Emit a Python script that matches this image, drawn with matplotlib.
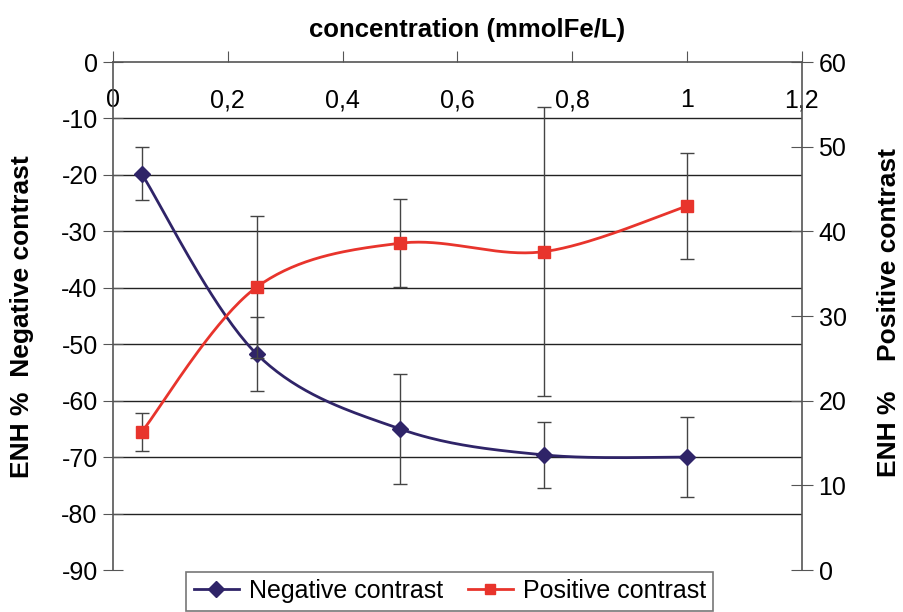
# ====================================
# ENH % vs concentration: negative / positive contrast
# ====================================

import numpy as np
import matplotlib.pyplot as plt
from matplotlib.ticker import FuncFormatter

plt.rcParams["font.family"] = ["Liberation Sans", "DejaVu Sans"]
plt.rcParams["axes.unicode_minus"] = False

# ====================================
# Data
# ====================================

concentration = [0.05, 0.25, 0.5, 0.75, 1.0]

neg_enh = [-19.8, -51.7, -65.0, -69.6, -70.0]
neg_err = [4.7, 6.5, 9.7, 5.8, 7.1]

pos_enh = [16.3, 33.4, 38.6, 37.6, 43.0]
pos_err = [2.2, 8.4, 5.2, 17.1, 6.3]

x_ticks = [0, 0.2, 0.4, 0.6, 0.8, 1.0, 1.2]
left_ticks = [0, -10, -20, -30, -40, -50, -60, -70, -80, -90]
right_ticks = [0, 10, 20, 30, 40, 50, 60]

NEG_COLOR = "#2f2468"
POS_COLOR = "#e8342c"
AXIS_COLOR = "#555555"


def smooth_line(x, y, steps=40):
    # Excel-style smoothed line: Catmull-Rom through the data points
    x = np.asarray(x, dtype=float)
    y = np.asarray(y, dtype=float)
    px = np.concatenate([[x[0]], x, [x[-1]]])
    py = np.concatenate([[y[0]], y, [y[-1]]])
    xs, ys = [], []
    for i in range(1, len(px) - 2):
        t = np.linspace(0, 1, steps)
        for arr, out in ((px, xs), (py, ys)):
            p0, p1, p2, p3 = arr[i - 1], arr[i], arr[i + 1], arr[i + 2]
            c1 = p1 + (p2 - p0) / 6
            c2 = p2 - (p3 - p1) / 6
            out.extend((1 - t) ** 3 * p1 + 3 * (1 - t) ** 2 * t * c1
                       + 3 * (1 - t) * t ** 2 * c2 + t ** 3 * p2)
    return xs, ys


comma = FuncFormatter(lambda v, p: ("%g" % v).replace(".", ","))

# ====================================
# Figure
# ====================================

fig = plt.figure(figsize=(9.04, 6.12), dpi=100)
ax = fig.add_axes([0.125, 0.0686, 0.762, 0.830])
ax2 = ax.twinx()

ax.set_xlim(0, 1.2)
ax.set_ylim(-90, 0)
ax2.set_ylim(0, 60)

# gridlines at left axis ticks
for v in left_ticks[1:-1]:
    ax.axhline(v, color="#222222", lw=1.0, zorder=1)

# negative contrast (left axis)
sx, sy = smooth_line(concentration, neg_enh)
ax.plot(sx, sy, color=NEG_COLOR, lw=2, zorder=3)
ax.errorbar(concentration, neg_enh, yerr=neg_err, fmt="none",
            ecolor="#444444", elinewidth=1, capsize=5, capthick=1, zorder=2)
ax.plot(concentration, neg_enh, ls="none", marker="D", ms=8,
        color=NEG_COLOR, zorder=4)

# positive contrast (right axis)
sx, sy = smooth_line(concentration, pos_enh)
ax2.plot(sx, sy, color=POS_COLOR, lw=2, zorder=3)
ax2.errorbar(concentration, pos_enh, yerr=pos_err, fmt="none",
             ecolor="#444444", elinewidth=1, capsize=5, capthick=1, zorder=2)
ax2.plot(concentration, pos_enh, ls="none", marker="s", ms=8,
         color=POS_COLOR, zorder=4)

# ====================================
# Axes styling
# ====================================

for a in (ax, ax2):
    a.spines["bottom"].set_visible(False)
    for s in ("top", "left", "right"):
        a.spines[s].set_color(AXIS_COLOR)
        a.spines[s].set_linewidth(1.2)

ax.spines["right"].set_visible(False)
ax2.spines["left"].set_visible(False)
ax2.spines["top"].set_visible(False)

ax.set_xticks(x_ticks)
ax.xaxis.set_major_formatter(comma)
ax.tick_params(axis="x", bottom=False, labelbottom=False, top=True,
               labeltop=True, direction="out", length=8, pad=-44,
               color=AXIS_COLOR, labelsize=18)

ax.set_yticks(left_ticks)
ax.tick_params(axis="y", direction="inout", length=14, color=AXIS_COLOR,
               labelsize=18, pad=4)

ax2.set_yticks(right_ticks)
ax2.tick_params(axis="y", direction="inout", length=16, color=AXIS_COLOR,
                labelsize=18, pad=4)

fig.text(0.517, 0.951, "concentration (mmolFe/L)", ha="center",
         va="center", fontsize=18.5, fontweight="bold")
fig.text(0.024, 0.482, "ENH %  Negative contrast", rotation=90,
         ha="center", va="center", fontsize=19, fontweight="bold")
fig.text(0.983, 0.49, "ENH %    Positive contrast", rotation=90,
         ha="center", va="center", fontsize=19, fontweight="bold")

# legend box, partly cut off by the bottom edge
h1 = ax.plot([], [], color=NEG_COLOR, lw=2, marker="D", ms=8)[0]
h2 = ax.plot([], [], color=POS_COLOR, lw=2, marker="s", ms=7)[0]
leg = fig.legend([h1, h2], ["Negative contrast", "Positive contrast"],
                 loc="upper left", bbox_to_anchor=(0.206, 0.066),
                 borderaxespad=0, ncol=2, fontsize=18, frameon=True,
                 fancybox=False, handlelength=1.8, handletextpad=0.4,
                 columnspacing=1.0, borderpad=0.3)
leg.get_frame().set_edgecolor(AXIS_COLOR)
leg.get_frame().set_linewidth(1.2)

fig.savefig("out.png", dpi=100)
